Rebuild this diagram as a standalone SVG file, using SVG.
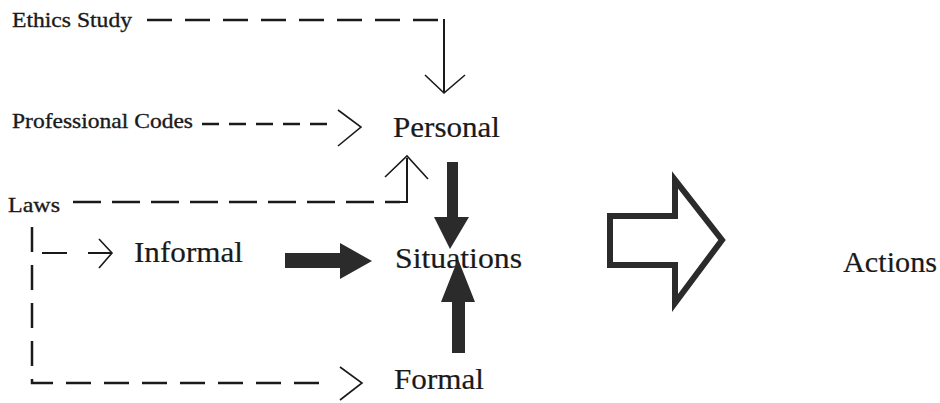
<svg xmlns="http://www.w3.org/2000/svg" width="940" height="403" viewBox="0 0 940 403">
<style>
text{font-family:"Liberation Serif","Times New Roman",serif;fill:#1a1a1a}
.s{font-size:22px;stroke:#1a1a1a;stroke-width:0.35}
.b{font-size:30px;stroke:#1a1a1a;stroke-width:0.2}
.d{fill:none;stroke:#1a1a1a;stroke-width:2.5;stroke-dasharray:25 13}
.l{fill:none;stroke:#1a1a1a;stroke-width:2}
.ch{fill:none;stroke:#1a1a1a;stroke-width:1.6;stroke-linejoin:miter}
.t{fill:#2b2b2b}
</style>
<rect width="940" height="403" fill="#fff"/>
<g id="ethics"><text class="s" x="12" y="27" textLength="120" lengthAdjust="spacingAndGlyphs">Ethics Study</text></g>
<g id="codes"><text class="s" x="12" y="128" textLength="181" lengthAdjust="spacingAndGlyphs">Professional Codes</text></g>
<g id="laws"><text class="s" x="8" y="212" textLength="52" lengthAdjust="spacingAndGlyphs">Laws</text></g>
<g id="personal"><text class="b" x="393" y="137" textLength="107" lengthAdjust="spacingAndGlyphs">Personal</text></g>
<g id="informal"><text class="b" x="134" y="262" textLength="109" lengthAdjust="spacingAndGlyphs">Informal</text></g>
<g id="situations"><text class="b" x="395" y="268" textLength="127" lengthAdjust="spacingAndGlyphs">Situations</text></g>
<g id="formal"><text class="b" x="394" y="389" textLength="90" lengthAdjust="spacingAndGlyphs">Formal</text></g>
<g id="actions"><text class="b" x="843" y="272" textLength="94" lengthAdjust="spacingAndGlyphs">Actions</text></g>
<g id="connectors">
<path class="d" d="M147 20 H444"/>
<path class="l" d="M444 19 V92"/>
<path class="ch" d="M425 75 L444 93 L465 75"/>
<path class="d" d="M202 124 H335" style="stroke-dasharray:17 10"/>
<path class="ch" d="M338 110 L361 127 L338 146"/>
<path class="d" d="M73 202 H400" style="stroke-dasharray:28 11"/>
<path class="l" d="M396 202 H407 V158"/>
<path class="ch" d="M385 177 L407 156 L428 179"/>
<path class="d" d="M32 227 V383 H332"/>
<path class="l" d="M42 253 H67 M88 253 H111"/>
<path class="ch" d="M99 239 L112 253 L99 268"/>
<path class="ch" d="M340 367 L362 383 L340 400"/>
<path class="t" d="M285 253 H340 V243 L372 261 L340 279 V268 H285 Z"/>
<path class="t" d="M447 162 H458 V217 H469 L450 249 L434 217 H447 Z"/>
<path class="t" d="M452 353 H465 V302 H475 L458 259 L441 302 H452 Z"/>
<path d="M610 216 H675 V180 L722 240 L675 303 V265 H610 Z" fill="none" stroke="#2b2b2b" stroke-width="6" stroke-linejoin="miter"/>
</g>
</svg>
